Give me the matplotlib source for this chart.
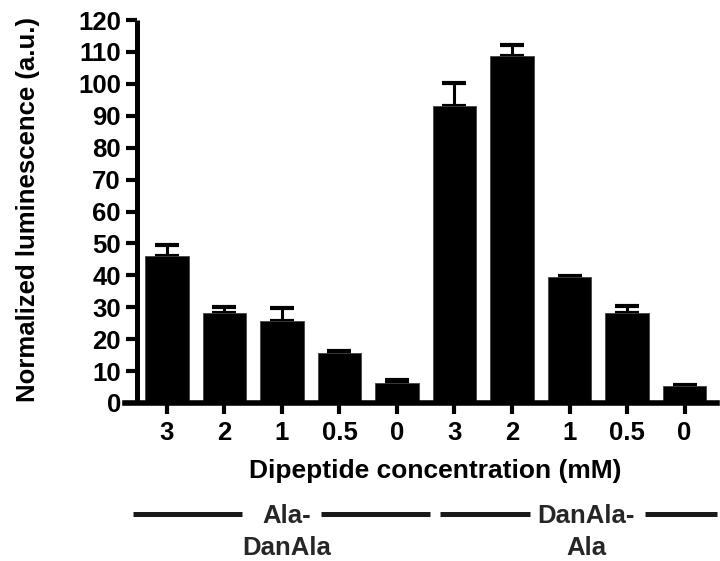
import matplotlib.pyplot as plt
import matplotlib.transforms as mtransforms
import numpy as np

plt.rcParams['font.family'] = ['Liberation Sans', 'DejaVu Sans']
plt.rcParams['font.weight'] = 'bold'

# data
conc_labels = ['3', '2', '1', '0.5', '0', '3', '2', '1', '0.5', '0']
means = [46.1, 28.3, 25.8, 15.6, 6.2, 92.9, 108.8, 39.4, 28.1, 5.3]
err_up = [3.3, 1.8, 3.9, 0.7, 0.9, 7.4, 3.3, 0.4, 2.2, 0.4]
groups = [('Ala-', 'DanAla'), ('DanAla-', 'Ala')]

W, H = 720, 561
fig = plt.figure(figsize=(W / 100, H / 100), dpi=100)

# axes box in pixels: x axis from 125 to 717, y from 403 (0) to 20 (120)
ax = fig.add_axes([125 / W, 1 - 403 / H, (717 - 125) / W, (403 - 20) / H])

x = np.arange(len(means))
ax.bar(x, means, width=0.75, color='black', edgecolor='#444444', linewidth=0.6, zorder=2)
ax.errorbar(x, means, yerr=[np.zeros(len(means)), err_up], fmt='none',
            ecolor='black', elinewidth=2.2, capsize=8.5, capthick=3, zorder=1)

ax.set_xlim(-0.73, 9.565)
ax.set_ylim(0, 120)
ax.set_yticks(range(0, 121, 10))
ax.set_xticks(x)
ax.set_xticklabels(conc_labels)

for side in ('top', 'right'):
    ax.spines[side].set_visible(False)
ax.spines['left'].set_position(('data', -0.513))
ax.spines['left'].set_linewidth(3.6)
ax.spines['bottom'].set_linewidth(4)
ax.spines['left'].set_capstyle('butt')

ax.tick_params(axis='y', length=8, width=3, pad=4, labelsize=18.5)
ax.tick_params(axis='x', length=8, width=3, pad=5, labelsize=18.5)

fig.text(28 / W, 1 - 209 / H, 'Normalized luminescence (a.u.)', rotation=90,
         ha='center', va='center', fontsize=18.5, fontweight='bold')
fig.text(435 / W, 1 - 471 / H, 'Dipeptide concentration (mM)',
         ha='center', va='center', fontsize=19, fontweight='bold')

# group labels with dashes underneath the axis
trans = mtransforms.blended_transform_factory(ax.transData, fig.transFigure)
line_y = 1 - 514 / H
segments = [(-0.59, 1.30), (2.68, 4.57), (4.75, 6.31), (8.31, 9.57)]
for x0, x1 in segments:
    ax.plot([x0, x1], [line_y, line_y], transform=trans, color='#1a1a1a',
            linewidth=3.6, solid_capstyle='butt', clip_on=False)

label_x = [2.09, 7.29]
for gx, (top, bottom) in zip(label_x, groups):
    ax.text(gx, 1 - 523 / H, top, transform=trans, ha='center', va='baseline',
            fontsize=18.5, fontweight='bold', color='#262626')
    ax.text(gx, 1 - 555 / H, bottom, transform=trans, ha='center', va='baseline',
            fontsize=18.5, fontweight='bold', color='#262626')

fig.savefig('out.png', dpi=100)
